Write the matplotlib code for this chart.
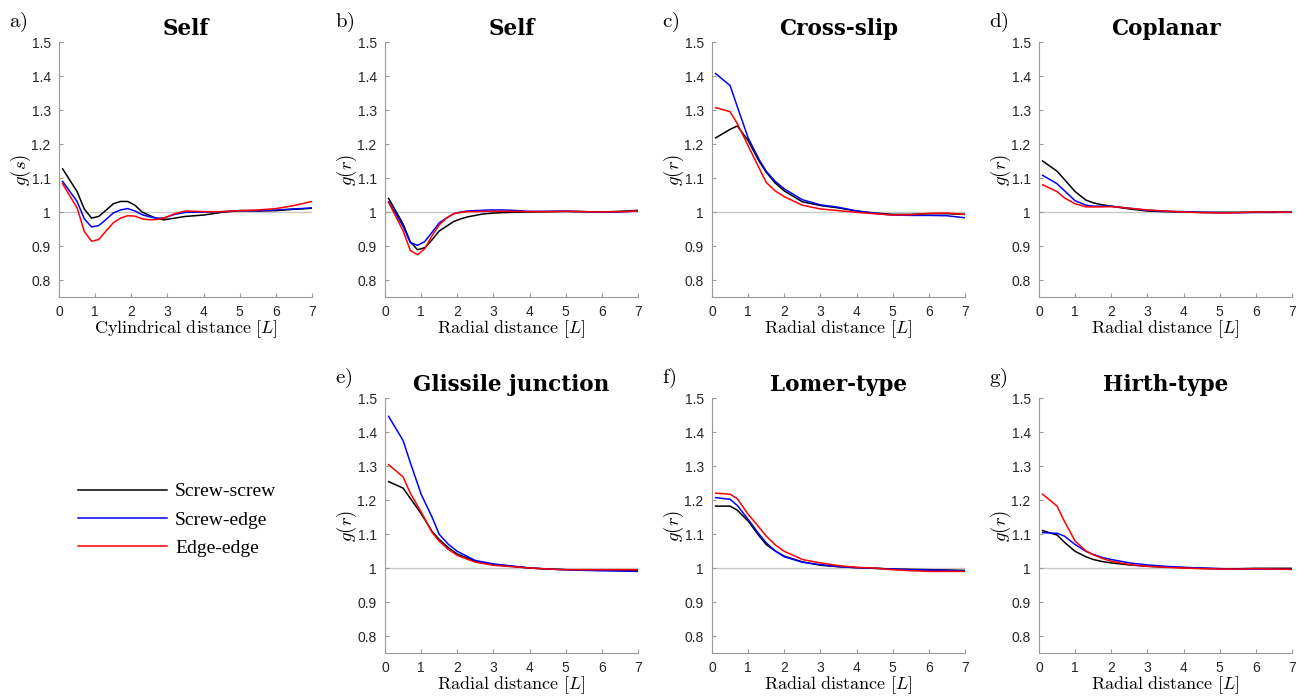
import matplotlib
matplotlib.use("Agg")
import matplotlib.pyplot as plt

plt.rcParams['mathtext.fontset'] = 'cm'
plt.rcParams['font.family'] = ['Liberation Sans', 'DejaVu Sans']

# x grids (distance in units of L)
x_fine = [0.1, 0.5, 0.7, 0.9, 1.1, 1.3, 1.5, 1.7, 1.9, 2.1, 2.3, 2.5, 2.7, 2.9,
          3.2, 3.5, 4.0, 4.5, 5.0, 5.5, 6.0, 6.5, 7.0]
x_coarse = [0.1, 0.5, 0.7, 1.0, 1.3, 1.5, 1.75, 2.0, 2.5, 3.0, 3.5, 4.0, 4.5,
            5.0, 5.5, 6.0, 6.5, 7.0]

# a) Self, cylindrical
a_ss = [1.127, 1.060, 1.009, 0.982, 0.987, 1.005, 1.024, 1.031, 1.031, 1.020, 1.000, 0.990,
        0.981, 0.977, 0.982, 0.987, 0.991, 0.999, 1.004, 1.003, 1.004, 1.008, 1.011]
a_se = [1.090, 1.031, 0.980, 0.956, 0.960, 0.978, 0.997, 1.006, 1.010, 1.003, 0.992, 0.986,
        0.982, 0.982, 0.993, 0.999, 1.000, 1.001, 1.004, 1.004, 1.006, 1.009, 1.012]
a_ee = [1.083, 1.012, 0.943, 0.914, 0.919, 0.944, 0.968, 0.982, 0.989, 0.988, 0.980, 0.977,
        0.978, 0.982, 0.995, 1.003, 1.001, 1.001, 1.004, 1.006, 1.010, 1.019, 1.031]

# b) Self, radial
b_ss = [1.040, 0.965, 0.912, 0.889, 0.895, 0.918, 0.944, 0.958, 0.972, 0.980, 0.986, 0.990,
        0.994, 0.996, 0.998, 0.999, 1.000, 1.001, 1.002, 1.001, 1.000, 1.002, 1.005]
b_se = [1.030, 0.958, 0.910, 0.902, 0.913, 0.940, 0.968, 0.982, 0.995, 1.000, 1.003, 1.004,
        1.005, 1.006, 1.006, 1.005, 1.002, 1.002, 1.002, 1.001, 0.999, 1.000, 1.003]
b_ee = [1.028, 0.945, 0.887, 0.874, 0.892, 0.930, 0.962, 0.982, 0.995, 0.999, 1.001, 1.001,
        1.002, 1.002, 1.002, 1.002, 1.001, 1.001, 1.002, 1.001, 1.000, 1.001, 1.003]

# c) Cross-slip
c_ss = [1.218, 1.243, 1.253, 1.210, 1.150, 1.117, 1.085, 1.062, 1.030, 1.019, 1.012, 1.003,
        0.997, 0.993, 0.993, 0.995, 0.995, 0.993]
c_se = [1.407, 1.372, 1.310, 1.218, 1.155, 1.120, 1.090, 1.068, 1.036, 1.021, 1.014, 1.003,
        0.996, 0.991, 0.990, 0.990, 0.989, 0.983]
c_ee = [1.307, 1.295, 1.260, 1.195, 1.130, 1.087, 1.062, 1.045, 1.020, 1.009, 1.004, 0.999,
        0.995, 0.991, 0.992, 0.996, 0.997, 0.993]

# d) Coplanar
d_ss = [1.150, 1.120, 1.096, 1.060, 1.035, 1.027, 1.021, 1.017, 1.009, 1.003, 1.001, 1.000,
        0.999, 0.999, 0.999, 0.999, 0.999, 1.000]
d_se = [1.108, 1.083, 1.063, 1.033, 1.020, 1.017, 1.017, 1.017, 1.011, 1.005, 1.002, 1.001,
        0.999, 0.998, 0.998, 0.999, 0.999, 0.999]
d_ee = [1.080, 1.060, 1.042, 1.024, 1.015, 1.015, 1.015, 1.016, 1.011, 1.006, 1.003, 1.000,
        0.998, 0.997, 0.998, 1.000, 1.000, 0.999]

# e) Glissile junction
e_ss = [1.254, 1.235, 1.205, 1.160, 1.108, 1.084, 1.060, 1.041, 1.020, 1.010, 1.005, 1.000,
        0.997, 0.995, 0.994, 0.993, 0.993, 0.992]
e_se = [1.446, 1.375, 1.310, 1.217, 1.150, 1.099, 1.070, 1.049, 1.022, 1.012, 1.006, 1.000,
        0.997, 0.995, 0.993, 0.992, 0.991, 0.990]
e_ee = [1.304, 1.268, 1.220, 1.165, 1.105, 1.079, 1.055, 1.037, 1.017, 1.008, 1.004, 1.000,
        0.997, 0.995, 0.995, 0.995, 0.995, 0.995]

# f) Lomer-type
f_ss = [1.182, 1.182, 1.170, 1.138, 1.095, 1.069, 1.050, 1.035, 1.018, 1.008, 1.004, 1.001,
        0.999, 0.997, 0.996, 0.995, 0.994, 0.993]
f_se = [1.207, 1.202, 1.184, 1.143, 1.100, 1.074, 1.050, 1.033, 1.017, 1.010, 1.004, 1.001,
        0.999, 0.997, 0.995, 0.994, 0.993, 0.991]
f_ee = [1.220, 1.217, 1.204, 1.158, 1.120, 1.094, 1.068, 1.049, 1.025, 1.015, 1.007, 1.002,
        1.000, 0.995, 0.992, 0.990, 0.990, 0.990]

# g) Hirth-type
g_ss = [1.110, 1.097, 1.076, 1.049, 1.033, 1.025, 1.019, 1.015, 1.009, 1.005, 1.003, 1.001,
        0.999, 0.998, 0.998, 0.999, 0.999, 0.999]
g_se = [1.104, 1.102, 1.094, 1.069, 1.049, 1.040, 1.031, 1.025, 1.015, 1.009, 1.005, 1.002,
        1.000, 0.998, 0.997, 0.997, 0.997, 0.996]
g_ee = [1.217, 1.182, 1.138, 1.079, 1.050, 1.039, 1.028, 1.020, 1.010, 1.005, 1.002, 1.000,
        0.998, 0.997, 0.997, 0.998, 0.997, 0.996]

series_labels = ['Screw-screw', 'Screw-edge', 'Edge-edge']
series_colors = ['black', 'blue', 'red']

panels = [
    ('a)', 'Self', x_fine, (a_ss, a_se, a_ee), 'Cylindrical', 's'),
    ('b)', 'Self', x_fine, (b_ss, b_se, b_ee), 'Radial', 'r'),
    ('c)', 'Cross-slip', x_coarse, (c_ss, c_se, c_ee), 'Radial', 'r'),
    ('d)', 'Coplanar', x_coarse, (d_ss, d_se, d_ee), 'Radial', 'r'),
    ('e)', 'Glissile junction', x_coarse, (e_ss, e_se, e_ee), 'Radial', 'r'),
    ('f)', 'Lomer-type', x_coarse, (f_ss, f_se, f_ee), 'Radial', 'r'),
    ('g)', 'Hirth-type', x_coarse, (g_ss, g_se, g_ee), 'Radial', 'r'),
]

W, H = 1304, 696
fig = plt.figure(figsize=(W / 100, H / 100), dpi=100)

col_left = [59, 385, 712, 1039]
ax_w = 253
row_top = [42, 398]
ax_h = 255
# (row, col) of each panel
slots = [(0, 0), (0, 1), (0, 2), (0, 3), (1, 1), (1, 2), (1, 3)]

handles = None
for (letter, title, xs, ys, kind, var), (r, c) in zip(panels, slots):
    left = col_left[c]
    top = row_top[r]
    ax = fig.add_axes([left / W, 1 - (top + ax_h) / H, ax_w / W, ax_h / H])
    ax.axhline(1.0, color='#c8c8c8', lw=1.0, zorder=1)
    lines = []
    for y, col, lab in zip(ys, series_colors, series_labels):
        ln, = ax.plot(xs, y, color=col, lw=1.1, label=lab, zorder=2)
        lines.append(ln)
    if handles is None:
        handles = lines
    ax.set_xlim(0, 7)
    ax.set_ylim(0.75, 1.5)
    ax.set_xticks(range(0, 8))
    ax.set_yticks([0.8, 0.9, 1.0, 1.1, 1.2, 1.3, 1.4, 1.5])
    ax.set_yticklabels(['0.8', '0.9', '1', '1.1', '1.2', '1.3', '1.4', '1.5'])
    for s in ['top', 'right']:
        ax.spines[s].set_visible(False)
    for s in ['left', 'bottom']:
        ax.spines[s].set_color('#9a9a9a')
        ax.spines[s].set_linewidth(0.8)
    ax.tick_params(direction='in', length=3, width=0.8, color='#9a9a9a',
                   pad=6, labelsize=10, labelcolor='#262626')
    ax.set_xlabel(r'$\mathrm{%s\ distance}\ [L]$' % kind, fontsize=13, labelpad=-1)
    ax.set_ylabel(r'$g(%s)$' % var, fontsize=13.5, labelpad=-1)
    ax.set_title(title, fontsize=15.5, pad=5,
                 fontfamily='DejaVu Serif', fontweight='bold')
    fig.text((left - 50) / W, 1 - (top - 20) / H, r'$\mathrm{%s}$' % letter,
             fontsize=15, ha='left', va='center')

fig.legend(handles, series_labels, loc='center left',
           bbox_to_anchor=(78 / W, 1 - 520 / H), frameon=False,
           prop={'family': 'Liberation Serif', 'size': 14},
           handlelength=4.6, handletextpad=0.4, labelspacing=0.55, borderpad=0,
           borderaxespad=0)

fig.savefig('out.png', dpi=100)
